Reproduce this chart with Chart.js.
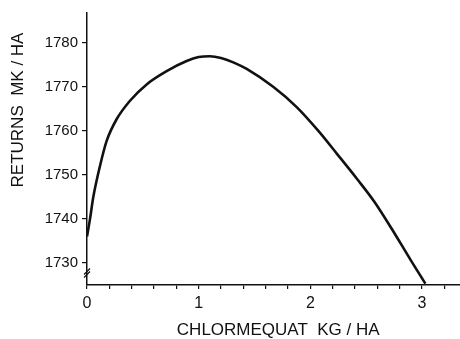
<!DOCTYPE html>
<html>
<head>
<meta charset="utf-8">
<script src="https://cdn.jsdelivr.net/npm/chart.js@4"></script>
<style>
  body { margin: 0; background: #fff; }
  #wrap { width: 460px; height: 339px; }
</style>
</head>
<body>
<div id="wrap"><canvas id="chart"></canvas></div>
<script>
// values
const doseKg = [0, 0.027, 0.056, 0.12, 0.176, 0.265, 0.385, 0.534, 0.713, 0.892, 1.0, 1.1, 1.2, 1.31, 1.43, 1.67, 1.88, 2.07, 2.24, 2.42, 2.57, 2.72, 2.90, 3.03];
const returnsMk = [1736, 1740, 1744.9, 1752.4, 1757.7, 1762.6, 1766.8, 1770.5, 1773.5, 1775.8, 1776.7, 1776.9, 1776.5, 1775.5, 1774.0, 1769.9, 1765.3, 1760.0, 1754.7, 1749.0, 1744.0, 1738.1, 1730.6, 1725.3];
const xTicks = [0, 0.2, 0.4, 0.6, 0.8, 1, 1.2, 1.4, 1.6, 1.8, 2, 2.2, 2.4, 2.6, 2.8, 3, 3.2];
const yTicks = [1730, 1740, 1750, 1760, 1770, 1780];
const xTitle = "CHLORMEQUAT  KG / HA";
const yTitle = "RETURNS  MK / HA";

const ink = "#111";
const font = "'Liberation Sans', Arial, sans-serif";

const extras = {
  id: "extras",
  afterDraw(chart) {
    const ctx = chart.ctx;
    const y = chart.scales.y;
    const x0 = chart.scales.x.getPixelForValue(0);
    // y title
    ctx.save();
    ctx.translate(18, 110);
    ctx.rotate(-Math.PI / 2);
    ctx.font = "17px " + font;
    ctx.fillStyle = ink;
    ctx.textAlign = "center";
    ctx.textBaseline = "middle";
    ctx.fillText(yTitle, 0, 0);
    ctx.restore();
    // axis break mark
    const yb = y.getPixelForValue(1727.6);
    ctx.save();
    ctx.strokeStyle = ink;
    ctx.lineWidth = 1.2;
    ctx.beginPath();
    ctx.moveTo(x0 - 3, yb + 4);
    ctx.lineTo(x0 + 3, yb - 2);
    ctx.moveTo(x0 - 3, yb + 1);
    ctx.lineTo(x0 + 3, yb - 5);
    ctx.stroke();
    ctx.restore();
  }
};

new Chart(document.getElementById("chart"), {
  type: "scatter",
  data: {
    datasets: [{
      data: doseKg.map((d, i) => ({ x: d, y: returnsMk[i] })),
      showLine: true,
      borderColor: ink,
      borderWidth: 2.6,
      pointRadius: 0,
      cubicInterpolationMode: "monotone"
    }]
  },
  options: {
    responsive: true,
    maintainAspectRatio: false,
    animation: false,
    layout: { padding: { top: 12, right: 0, left: 0, bottom: 0 } },
    plugins: { legend: { display: false }, tooltip: { enabled: false } },
    scales: {
      x: {
        type: "linear",
        min: 0,
        max: 3.34,
        border: { color: ink, width: 1.5 },
        grid: { drawOnChartArea: false, tickLength: 4, color: ink, lineWidth: 1.2 },
        afterBuildTicks: s => { s.ticks = xTicks.map(v => ({ value: v })); },
        afterFit: s => { s.height = 54; },
        ticks: {
          autoSkip: false,
          maxRotation: 0,
          padding: 5,
          color: ink,
          font: { family: font, size: 16 },
          callback: v => Math.abs(v - Math.round(v)) < 1e-6 ? String(Math.round(v)) : ""
        },
        title: {
          display: true,
          text: "  " + xTitle,
          color: ink,
          font: { family: font, size: 17, lineHeight: 1 },
          padding: { top: 0, bottom: 0 }
        }
      },
      y: {
        min: 1725,
        max: 1786.7,
        border: { color: ink, width: 1.5 },
        grid: { drawOnChartArea: false, tickLength: 5, color: ink, lineWidth: 1.2 },
        afterBuildTicks: s => { s.ticks = yTicks.map(v => ({ value: v })); },
        afterFit: s => { s.width = 87; },
        ticks: {
          padding: 4,
          color: ink,
          font: { family: font, size: 15 },
          callback: v => String(v)
        }
      }
    }
  },
  plugins: [extras]
});
</script>
</body>
</html>
